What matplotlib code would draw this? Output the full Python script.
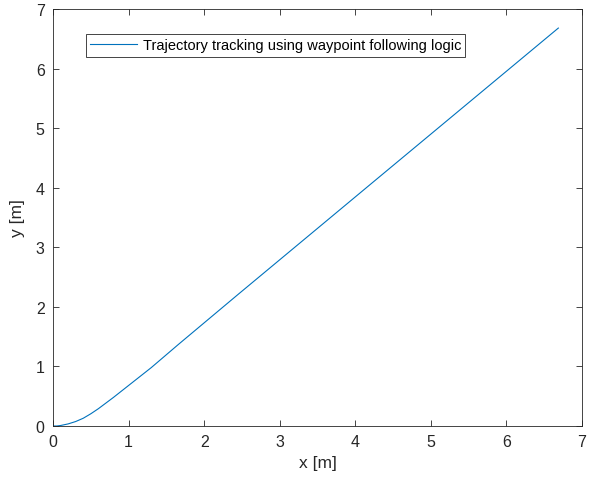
import numpy as np
import matplotlib
matplotlib.use('Agg')
import matplotlib.pyplot as plt

plt.rcParams['font.family'] = ['Liberation Sans', 'DejaVu Sans']

# trajectory points
x_pos = [0.0, 0.05, 0.1, 0.2, 0.3, 0.4, 0.5, 0.6, 0.8, 1.0, 1.3, 1.66,
         2.45, 3.49, 4.19, 5.0, 6.0, 6.687]
y_pos = [0.0, 0.0, 0.008, 0.035, 0.075, 0.13, 0.205, 0.29, 0.48, 0.68, 0.98, 1.37,
         2.21, 3.307, 4.046, 4.90, 5.955, 6.68]
label = 'Trajectory tracking using waypoint following logic'

fig = plt.figure(figsize=(5.95, 4.85), dpi=100)
ax = fig.add_axes([53/595, 1 - 427/485, 529/595, 417/485])

ax.plot(x_pos, y_pos, color='#0072BD', lw=0.8, label=label)

ax.set_xlim(0, 7)
ax.set_ylim(0, 7)
ax.set_xticks(np.arange(0, 8))
ax.set_yticks(np.arange(0, 8))
ax.tick_params(direction='in', top=True, right=True, length=4, width=0.6,
               colors='#262626', labelsize=11.5, pad=6)
for s in ax.spines.values():
    s.set_color('#262626')
    s.set_linewidth(0.6)

ax.set_xlabel('x [m]', fontsize=12.5, color='#262626', labelpad=4)
ax.set_ylabel('y [m]', fontsize=12.5, color='#262626', labelpad=8)

leg = ax.legend(loc='upper left', bbox_to_anchor=((85.7-53)/529, (427-35)/417),
                borderaxespad=0, fontsize=10.5, handlelength=3.2, fancybox=False,
                framealpha=1, borderpad=0.3, handletextpad=0.4)
leg.get_frame().set_edgecolor('#262626')
leg.get_frame().set_linewidth(0.6)

fig.savefig('out.png', dpi=100)
